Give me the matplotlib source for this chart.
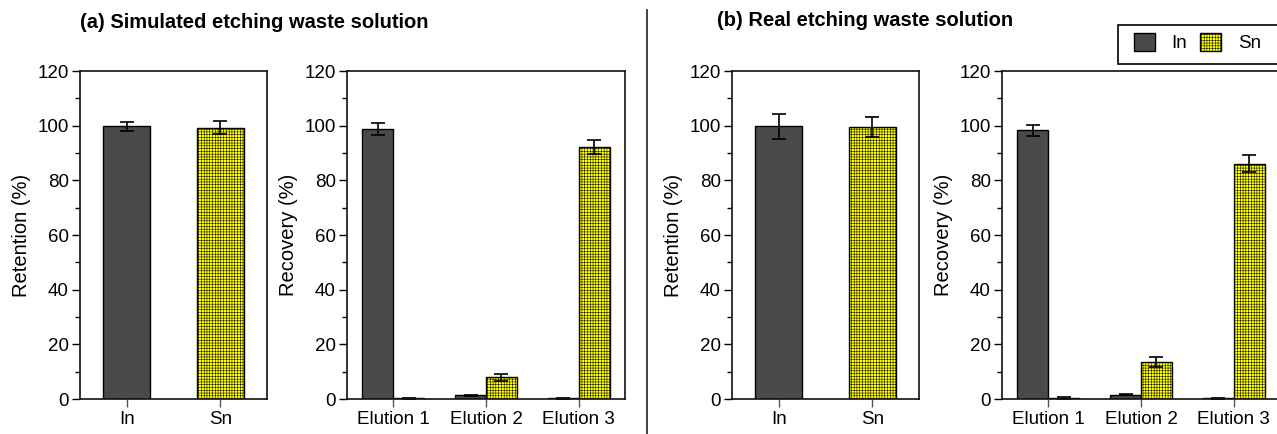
import matplotlib
matplotlib.use("Agg")
from matplotlib import pyplot as plt
from matplotlib.patches import Patch, Rectangle
from matplotlib.ticker import MultipleLocator
import numpy as np

plt.rcParams['font.family'] = ['Liberation Sans', 'DejaVu Sans']
plt.rcParams['hatch.linewidth'] = 0.35
plt.rcParams['hatch.color'] = '#5a5a20'

# retention data (%)
ret_labels = ["In", "Sn"]
ret_sim = [99.7, 99.3]
ret_sim_err = [1.5, 2.3]
ret_real = [99.7, 99.5]
ret_real_err = [4.5, 3.5]

# recovery data (%)
elu_labels = ["Elution 1", "Elution 2", "Elution 3"]
rec_sim_in = [98.7, 1.3, 0.2]
rec_sim_in_err = [2.2, 0.2, 0.1]
rec_sim_sn = [0.3, 7.9, 92.2]
rec_sim_sn_err = [0.2, 1.4, 2.4]
rec_real_in = [98.3, 1.6, 0.2]
rec_real_in_err = [2.1, 0.2, 0.1]
rec_real_sn = [0.4, 13.5, 86.1]
rec_real_sn_err = [0.3, 1.7, 3.1]

dark = '#4a4a4a'
yellow = '#ffff00'
sn_hatch = '++++++'

W, H = 1277, 434
fig = plt.figure(figsize=(W / 100, H / 100), dpi=100)

bot, h = 35 / H, 328 / H
ax1 = fig.add_axes([80 / W, bot, 187 / W, h])
ax2 = fig.add_axes([347 / W, bot, 278 / W, h])
ax3 = fig.add_axes([732 / W, bot, 187 / W, h])
ax4 = fig.add_axes([1002 / W, bot, 278 / W, h])

err_kw = dict(ecolor='black', elinewidth=1.2, capsize=5, capthick=1.2)


def style(ax, ylabel):
    ax.set_ylim(0, 120)
    ax.yaxis.set_major_locator(MultipleLocator(20))
    ax.yaxis.set_minor_locator(MultipleLocator(10))
    ax.tick_params(axis='y', which='major', length=6, width=1, labelsize=13.5, pad=2)
    ax.tick_params(axis='y', which='minor', length=3.5, width=1)
    ax.tick_params(axis='x', length=6, width=1, labelsize=13.5, pad=3, color='#555555')
    ax.set_ylabel(ylabel, fontsize=14.5, labelpad=5)
    for s in ax.spines.values():
        s.set_linewidth(1.2)
        s.set_color('#111111')


def retention(ax, vals, errs):
    x = np.arange(len(ret_labels))
    ax.bar(x[0], vals[0], 0.5, yerr=errs[0], color=dark, edgecolor='black', linewidth=1, error_kw=err_kw)
    ax.bar(x[1], vals[1], 0.5, yerr=errs[1], color=yellow, edgecolor='black', linewidth=1,
           hatch=sn_hatch, error_kw=err_kw)
    ax.set_xlim(-0.5, 1.5)
    ax.set_xticks(x)
    ax.set_xticklabels(ret_labels)
    style(ax, "Retention (%)")


def recovery(ax, vin, ein, vsn, esn):
    x = np.arange(len(elu_labels))
    w = 1 / 3
    ax.bar(x - w / 2, vin, w, yerr=ein, color=dark, edgecolor='black', linewidth=1, error_kw=err_kw)
    ax.bar(x + w / 2, vsn, w, yerr=esn, color=yellow, edgecolor='black', linewidth=1,
           hatch=sn_hatch, error_kw=err_kw)
    ax.set_xlim(-0.5, 2.5)
    ax.set_xticks(x)
    ax.set_xticklabels(elu_labels)
    style(ax, "Recovery (%)")


retention(ax1, ret_sim, ret_sim_err)
recovery(ax2, rec_sim_in, rec_sim_in_err, rec_sim_sn, rec_sim_sn_err)
retention(ax3, ret_real, ret_real_err)
recovery(ax4, rec_real_in, rec_real_in_err, rec_real_sn, rec_real_sn_err)

fig.text(80 / W, 1 - 23 / H, "(a) Simulated etching waste solution", fontsize=14.5,
         fontweight='bold', va='center', ha='left')
fig.text(717 / W, 1 - 21 / H, "(b) Real etching waste solution", fontsize=14.5,
         fontweight='bold', va='center', ha='left')

# divider between the two halves
fig.add_artist(plt.Line2D([647 / W, 647 / W], [0, 1 - 10 / H], color='#222222', linewidth=1.2))

# legend (box runs off the right edge as in the source figure)
fig.add_artist(Rectangle((1118 / W, 1 - 64 / H), 200 / W, 39 / H, transform=fig.transFigure,
                         facecolor='white', edgecolor='black', linewidth=1.2))
handles = [Patch(facecolor=dark, edgecolor='black', label='In'),
           Patch(facecolor=yellow, edgecolor='black', hatch=sn_hatch, label='Sn')]
leg = fig.legend(handles=handles, loc='upper left', bbox_to_anchor=(1134 / W, 1 - 33 / H),
                 ncol=2, fontsize=13.5, frameon=False,
                 handlelength=1.1, handleheight=1.1, handletextpad=0.9, columnspacing=0.7,
                 borderpad=0, borderaxespad=0)

fig.savefig("out.png", dpi=100)
